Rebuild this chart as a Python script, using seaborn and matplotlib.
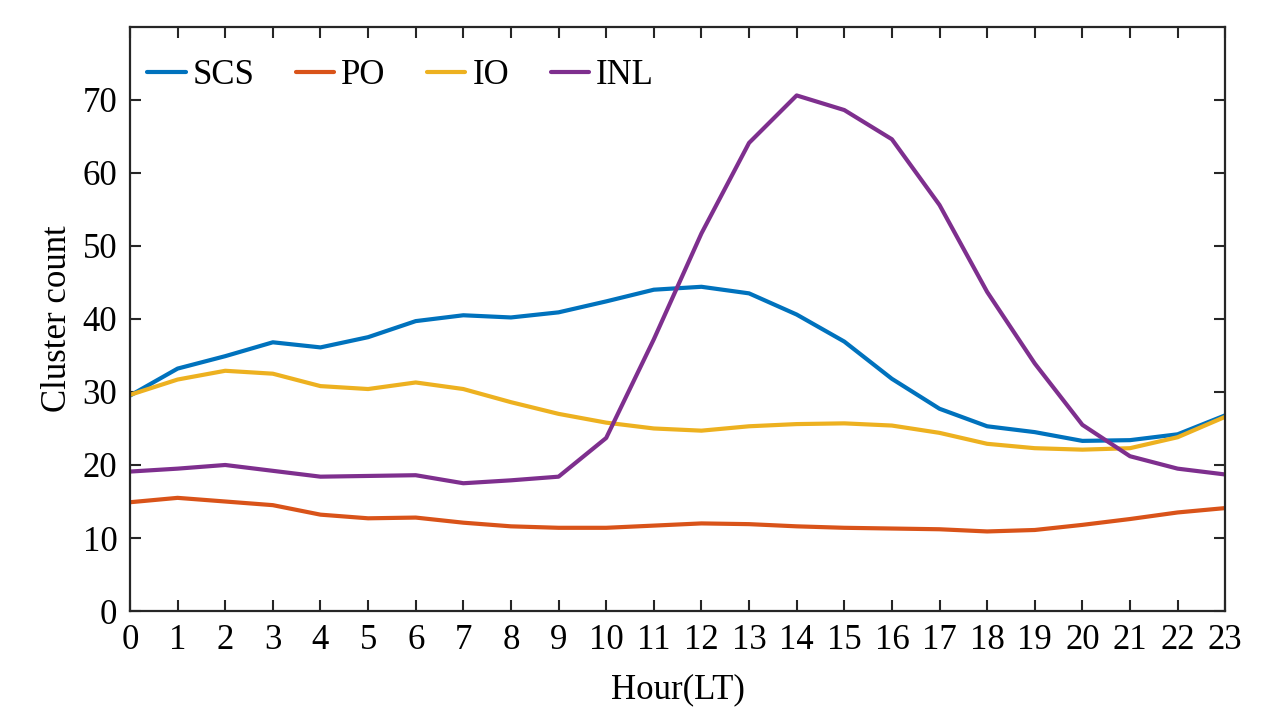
import pandas as pd
import numpy as np
import matplotlib.pyplot as plt
import seaborn as sns

hours = list(range(24))
scs = [29.5, 33.2, 34.9, 36.8, 36.1, 37.5, 39.7, 40.5, 40.2, 40.9, 42.4, 44.0,
       44.4, 43.5, 40.6, 36.9, 31.8, 27.7, 25.3, 24.5, 23.3, 23.4, 24.2, 26.8]
po = [14.9, 15.5, 15.0, 14.5, 13.2, 12.7, 12.8, 12.1, 11.6, 11.4, 11.4, 11.7,
      12.0, 11.9, 11.6, 11.4, 11.3, 11.2, 10.9, 11.1, 11.8, 12.6, 13.5, 14.1]
io = [29.6, 31.7, 32.9, 32.5, 30.8, 30.4, 31.3, 30.4, 28.6, 27.0, 25.8, 25.0,
      24.7, 25.3, 25.6, 25.7, 25.4, 24.4, 22.9, 22.3, 22.1, 22.3, 23.8, 26.6]
inl = [19.1, 19.5, 20.0, 19.2, 18.4, 18.5, 18.6, 17.5, 17.9, 18.4, 23.7, 37.2,
       51.7, 64.1, 70.6, 68.6, 64.6, 55.6, 43.7, 33.9, 25.5, 21.2, 19.5, 18.7]
series = ["SCS", "PO", "IO", "INL"]
colors = ["#0072BD", "#D95319", "#EDB120", "#7E2F8E"]

df = pd.DataFrame({"Hour": hours, "SCS": scs, "PO": po, "IO": io, "INL": inl})
long = df.melt(id_vars="Hour", var_name="Region", value_name="Count")

sns.set_theme(style="ticks")
plt.rcParams["font.family"] = ["Liberation Serif", "DejaVu Serif"]
plt.rcParams["text.color"] = "black"
plt.rcParams["axes.labelcolor"] = "black"
fs = 25

fig = plt.figure(figsize=(12.87, 7.24), dpi=100)
ax = fig.add_axes([0.101, 0.156, 0.851, 0.807])

sns.lineplot(data=long, x="Hour", y="Count", hue="Region", hue_order=series,
             palette=colors, ax=ax)
for ln in ax.lines:
    ln.set_linewidth(3.0)

ax.set_xlim(0, 23)
ax.set_ylim(0, 80)
ax.set_xticks(hours)
ax.set_yticks(range(0, 71, 10))
ax.tick_params(direction="in", length=8, width=1.5, colors="#262626",
               labelsize=fs, labelcolor="black", top=True, right=True,
               labeltop=False, labelright=False)
ax.tick_params(axis="x", pad=9)
ax.tick_params(axis="y", pad=9)
for s in ax.spines.values():
    s.set_linewidth(1.6)
    s.set_color("#262626")
    s.set_visible(True)

ax.set_xlabel("Hour(LT)", fontsize=fs, labelpad=12)
ax.set_ylabel("Cluster count", fontsize=fs, labelpad=6)

leg = ax.legend(loc="upper left", ncol=4, frameon=False, fontsize=fs,
                handlelength=1.1, handletextpad=0.2, columnspacing=1.2,
                borderaxespad=0.1, bbox_to_anchor=(0.0, 0.975))
for h in leg.get_lines():
    h.set_linewidth(3.0)
for t in leg.get_texts():
    t.set_color("black")

fig.savefig("out.png", dpi=100)
